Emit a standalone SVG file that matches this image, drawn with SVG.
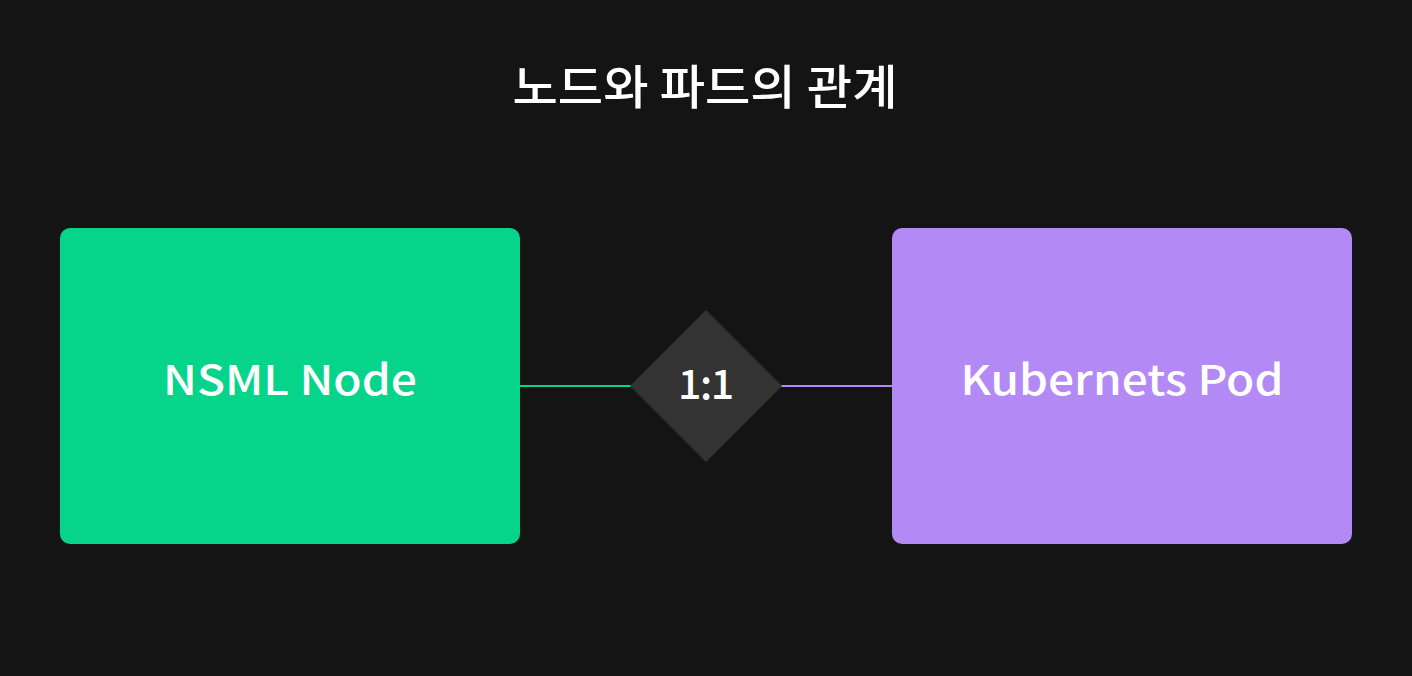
<svg xmlns="http://www.w3.org/2000/svg" width="1412" height="676" viewBox="0 0 1412 676">
<style>
.t{font-family:"Noto Sans CJK KR","Noto Sans",sans-serif;fill:#ffffff;text-anchor:middle}
.title{font-size:47px;font-weight:500}
.lbl{font-size:41px;font-weight:500}
</style>
<rect width="1412" height="676" fill="#141414"/>
<text class="t title" x="705" y="104" textLength="385" lengthAdjust="spacingAndGlyphs">노드와 파드의 관계</text>
<g id="connectors">
<line x1="520" y1="386" x2="632" y2="386" stroke="#07D38A" stroke-width="2"/>
<line x1="776" y1="386" x2="892" y2="386" stroke="#B388F6" stroke-width="2"/>
</g>
<g id="node-nsml">
<rect x="60" y="228" width="460" height="316" rx="10" fill="#06D48A"/>
<text class="t lbl" x="290" y="395" textLength="254" lengthAdjust="spacingAndGlyphs">NSML Node</text>
</g>
<g id="relation">
<polygon points="706,310 782,386 706,462 630,386" fill="#333333"/>
<text class="t lbl" x="706" y="399" textLength="56" lengthAdjust="spacing">1:1</text>
</g>
<g id="node-pod">
<rect x="892" y="228" width="460" height="316" rx="10" fill="#B389F6"/>
<text class="t lbl" x="1122" y="395" textLength="323" lengthAdjust="spacingAndGlyphs">Kubernets Pod</text>
</g>
</svg>
